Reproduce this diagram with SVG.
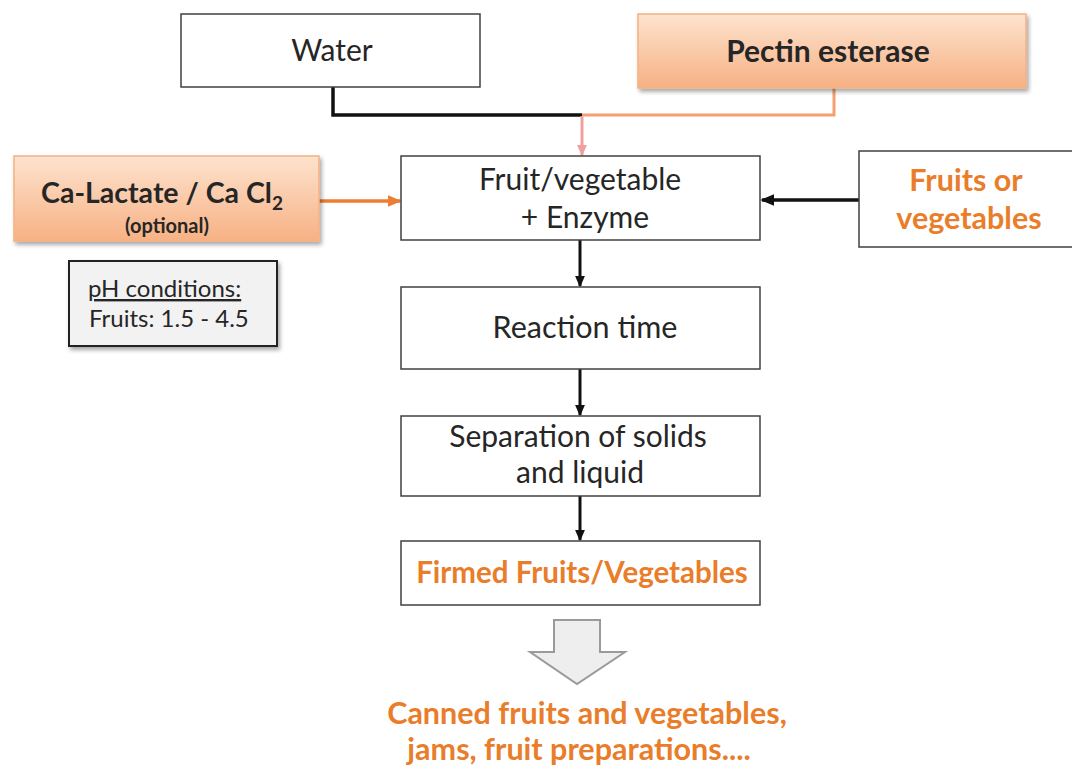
<svg xmlns="http://www.w3.org/2000/svg" width="1072" height="776" viewBox="0 0 1072 776">
<style>
.box{fill:#fff;stroke:#404040;stroke-width:1.5}
.obox{fill:url(#og);stroke:#F4B183;stroke-width:1.5}
.t{font-family:Lato,"Open Sans",sans-serif;fill:#262626;text-anchor:middle}
.l{text-anchor:start}
.b{font-weight:bold}
.or{fill:#E97D2A}
.blk{stroke:#111;stroke-width:3.5;fill:none}
</style>
<defs>
<linearGradient id="og" x1="0" y1="0" x2="0" y2="1">
<stop offset="0" stop-color="#FDE3CE"/>
<stop offset="1" stop-color="#F7B184"/>
</linearGradient>
<filter id="sh" x="-10%" y="-10%" width="130%" height="140%">
<feDropShadow dx="2" dy="3" stdDeviation="2" flood-color="#000" flood-opacity="0.35"/>
</filter>
<marker id="ab" markerWidth="4" markerHeight="4" refX="3.5" refY="2" orient="auto" markerUnits="strokeWidth">
<path d="M0,0.3 L4,2 L0,3.7 z" fill="#111"/>
</marker>
<marker id="ao" markerWidth="4" markerHeight="4" refX="3.5" refY="2" orient="auto" markerUnits="strokeWidth">
<path d="M0,0.3 L4,2 L0,3.7 z" fill="#ED7D31"/>
</marker>
<marker id="ap" markerWidth="4" markerHeight="4" refX="3.5" refY="2" orient="auto" markerUnits="strokeWidth">
<path d="M0,0.3 L4,2 L0,3.7 z" fill="#F0A0A0"/>
</marker>
</defs>
<rect width="1072" height="776" fill="#fff"/>

<g id="connectors">
<polyline class="blk" points="333,87 333,115 582,115"/>
<polyline points="834,88 834,115 582,115" fill="none" stroke="#F4A070" stroke-width="3"/>
<line x1="582" y1="116" x2="582" y2="155" stroke="#F0A0A0" stroke-width="3" marker-end="url(#ap)"/>
<line x1="319" y1="201" x2="400" y2="201" stroke="#ED7D31" stroke-width="3.5" marker-end="url(#ao)"/>
<line x1="859" y1="200" x2="762" y2="200" stroke="#111" stroke-width="3.5" marker-end="url(#ab)"/>
<line x1="580" y1="240" x2="580" y2="286" stroke="#111" stroke-width="3" marker-end="url(#ab)"/>
<line x1="580" y1="369" x2="580" y2="415" stroke="#111" stroke-width="3" marker-end="url(#ab)"/>
<line x1="580" y1="496" x2="580" y2="540" stroke="#111" stroke-width="3" marker-end="url(#ab)"/>
<path d="M554,620 L600,620 L600,652 L625,652 L577,684 L530,652 L554,652 Z" fill="#EEEEEE" stroke="#9A9A9A" stroke-width="2"/>
</g>

<g id="water">
<rect class="box" x="181" y="14" width="299" height="73"/>
<text class="t" x="332" y="61" font-size="30">Water</text>
</g>

<g id="pectin">
<rect class="obox" x="638" y="14" width="388" height="74" filter="url(#sh)"/>
<text class="t b" x="828" y="62" font-size="30">Pectin esterase</text>
</g>

<g id="ca">
<rect class="obox" x="14" y="156" width="305" height="85" filter="url(#sh)"/>
<text class="t b" x="162" y="203" font-size="28.5">Ca-Lactate / Ca Cl<tspan font-size="19" dy="7">2</tspan></text>
<text class="t b" x="167" y="233" font-size="20">(optional)</text>
</g>

<g id="ph">
<rect x="69" y="261" width="208" height="85" fill="#F2F2F2" stroke="#222" stroke-width="2" filter="url(#sh)"/>
<text class="t l" x="88" y="297" font-size="24" text-decoration="underline">pH conditions:</text>
<text class="t l" x="89" y="327" font-size="24">Fruits: 1.5 - 4.5</text>
</g>

<g id="mix">
<rect class="box" x="401" y="156" width="359" height="84"/>
<text class="t" x="580" y="190" font-size="30">Fruit/vegetable</text>
<text class="t" x="585" y="228" font-size="30">+ Enzyme</text>
</g>

<g id="fruits">
<rect class="box" x="859" y="151" width="220" height="96"/>
<text class="t b or" x="966" y="191" font-size="30.5">Fruits or</text>
<text class="t b or" x="969" y="229" font-size="30.5">vegetables</text>
</g>

<g id="reaction">
<rect class="box" x="401" y="287" width="359" height="82"/>
<text class="t" x="585" y="338" font-size="30.5">Reaction time</text>
</g>

<g id="separation">
<rect class="box" x="401" y="416" width="359" height="80"/>
<text class="t" x="578" y="447" font-size="30">Separation of solids</text>
<text class="t" x="580" y="483" font-size="30">and liquid</text>
</g>

<g id="firmed">
<rect class="box" x="401" y="541" width="359" height="64"/>
<text class="t b or" x="582" y="583" font-size="29.5">Firmed Fruits/Vegetables</text>
</g>

<g id="products">
<text class="t b or" x="587" y="724" font-size="30.5">Canned fruits and vegetables,</text>
<text class="t b or" x="579" y="760" font-size="30.5">jams, fruit preparations....</text>
</g>
</svg>
